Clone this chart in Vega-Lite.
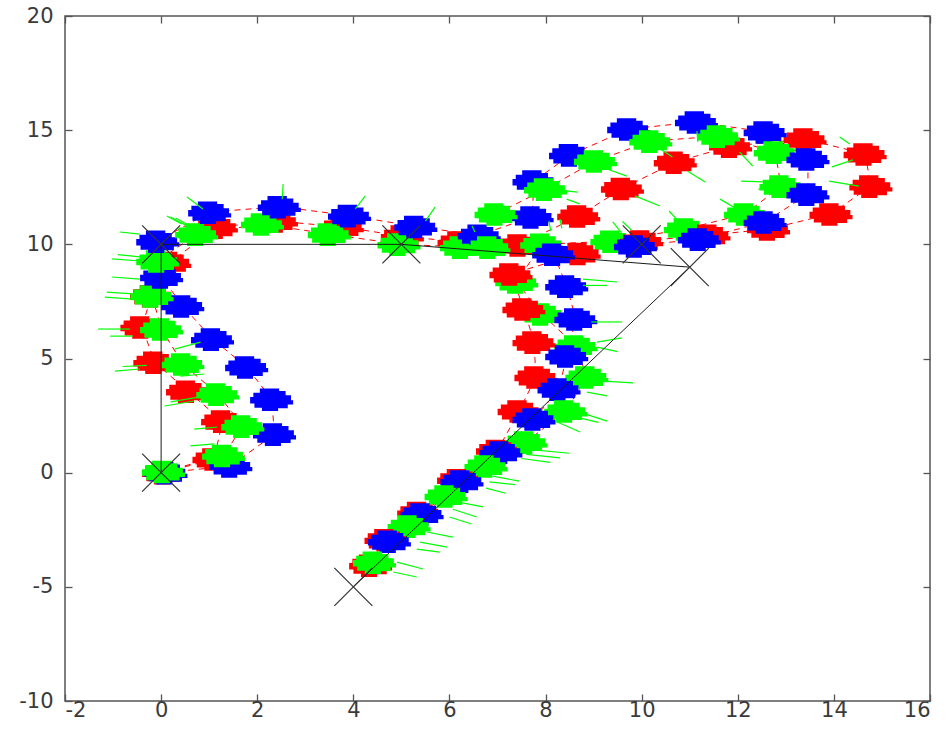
{
  "$schema": "https://vega.github.io/schema/vega-lite/v6.json",
  "width": 865,
  "height": 685,
  "autosize": {"type": "none"},
  "padding": {"left": 65, "top": 16, "right": 20, "bottom": 43},
  "background": "white",
  "config": {
    "view": {"stroke": "#555555", "strokeWidth": 1.5},
    "axis": {"grid": false, "domain": false, "title": null, "labelFont": "DejaVu Sans", "labelFontSize": 21, "labelColor": "#3a3a3a", "tickColor": "#555555", "tickWidth": 1.3, "tickSize": -7}
  },
  "datasets": {
    "robots": [
      {"robot":"r","step":1,"x":0.05,"y":0.0},{"robot":"b","step":1,"x":0.1,"y":0.0},{"robot":"g","step":1,"x":0.05,"y":0.05},
      {"robot":"r","step":2,"x":1.1,"y":0.6},{"robot":"b","step":2,"x":1.45,"y":0.3},{"robot":"g","step":2,"x":1.3,"y":0.75},
      {"robot":"r","step":3,"x":1.28,"y":2.26},{"robot":"b","step":3,"x":2.36,"y":1.69},{"robot":"g","step":3,"x":1.7,"y":2.04},
      {"robot":"r","step":4,"x":0.55,"y":3.57},{"robot":"b","step":4,"x":2.3,"y":3.22},{"robot":"g","step":4,"x":1.18,"y":3.44},
      {"robot":"r","step":5,"x":-0.13,"y":4.84},{"robot":"b","step":5,"x":1.78,"y":4.63},{"robot":"g","step":5,"x":0.45,"y":4.76},
      {"robot":"r","step":6,"x":-0.4,"y":6.38},{"robot":"b","step":6,"x":1.07,"y":5.85},{"robot":"g","step":6,"x":0.01,"y":6.29},
      {"robot":"r","step":7,"x":-0.2,"y":7.75},{"robot":"b","step":7,"x":0.45,"y":7.3},{"robot":"g","step":7,"x":-0.19,"y":7.74},
      {"robot":"r","step":8,"x":0.18,"y":9.2},{"robot":"b","step":8,"x":0.01,"y":8.57},{"robot":"g","step":8,"x":-0.07,"y":9.27},
      {"robot":"r","step":9,"x":1.15,"y":10.75},{"robot":"b","step":9,"x":-0.07,"y":10.14},{"robot":"g","step":9,"x":0.74,"y":10.45},
      {"robot":"r","step":10,"x":2.4,"y":11.02},{"robot":"b","step":10,"x":1.01,"y":11.41},{"robot":"g","step":10,"x":2.11,"y":10.89},
      {"robot":"r","step":11,"x":3.77,"y":10.76},{"robot":"b","step":11,"x":2.46,"y":11.65},{"robot":"g","step":11,"x":3.5,"y":10.45},
      {"robot":"r","step":12,"x":5.02,"y":10.36},{"robot":"b","step":12,"x":3.92,"y":11.26},{"robot":"g","step":12,"x":4.95,"y":10.01},
      {"robot":"r","step":13,"x":6.2,"y":10.1},{"robot":"b","step":13,"x":5.3,"y":10.78},{"robot":"g","step":13,"x":6.25,"y":9.88},
      {"robot":"r","step":14,"x":7.45,"y":9.97},{"robot":"b","step":14,"x":6.62,"y":10.4},{"robot":"g","step":14,"x":6.82,"y":9.88},
      {"robot":"r","step":15,"x":8.69,"y":11.24},{"robot":"b","step":15,"x":7.72,"y":11.2},{"robot":"g","step":15,"x":6.97,"y":11.33},
      {"robot":"r","step":16,"x":9.6,"y":12.45},{"robot":"b","step":16,"x":7.76,"y":12.77},{"robot":"g","step":16,"x":8.0,"y":12.42},
      {"robot":"r","step":17,"x":10.7,"y":13.6},{"robot":"b","step":17,"x":8.52,"y":13.92},{"robot":"g","step":17,"x":9.04,"y":13.65},
      {"robot":"r","step":18,"x":11.85,"y":14.3},{"robot":"b","step":18,"x":9.73,"y":15.05},{"robot":"g","step":18,"x":10.19,"y":14.52},
      {"robot":"r","step":19,"x":13.4,"y":14.61},{"robot":"b","step":19,"x":11.14,"y":15.36},{"robot":"g","step":19,"x":11.6,"y":14.74},
      {"robot":"r","step":20,"x":14.65,"y":13.96},{"robot":"b","step":20,"x":12.57,"y":14.92},{"robot":"g","step":20,"x":12.78,"y":14.04},
      {"robot":"r","step":21,"x":14.77,"y":12.55},{"robot":"b","step":21,"x":13.46,"y":13.74},{"robot":"g","step":21,"x":12.9,"y":12.55},
      {"robot":"r","step":22,"x":13.94,"y":11.33},{"robot":"b","step":22,"x":13.46,"y":12.2},{"robot":"g","step":22,"x":12.16,"y":11.33},
      {"robot":"r","step":23,"x":12.64,"y":10.67},{"robot":"b","step":23,"x":12.57,"y":10.98},{"robot":"g","step":23,"x":10.91,"y":10.67},
      {"robot":"r","step":24,"x":11.4,"y":10.4},{"robot":"b","step":24,"x":11.2,"y":10.23},{"robot":"g","step":24,"x":9.38,"y":10.14},
      {"robot":"r","step":25,"x":10.0,"y":10.15},{"robot":"b","step":25,"x":9.87,"y":9.93},{"robot":"g","step":25,"x":7.92,"y":10.0},
      {"robot":"r","step":26,"x":8.7,"y":9.6},{"robot":"b","step":26,"x":8.17,"y":9.57},{"robot":"g","step":26,"x":7.4,"y":8.35},
      {"robot":"r","step":27,"x":7.28,"y":8.7},{"robot":"b","step":27,"x":8.44,"y":8.17},{"robot":"g","step":27,"x":7.92,"y":6.95},
      {"robot":"r","step":28,"x":7.55,"y":7.17},{"robot":"b","step":28,"x":8.63,"y":6.73},{"robot":"g","step":28,"x":8.63,"y":5.55},
      {"robot":"r","step":29,"x":7.76,"y":5.72},{"robot":"b","step":29,"x":8.44,"y":5.11},{"robot":"g","step":29,"x":8.86,"y":4.19},
      {"robot":"r","step":30,"x":7.8,"y":4.19},{"robot":"b","step":30,"x":8.28,"y":3.66},{"robot":"g","step":30,"x":8.42,"y":2.7},
      {"robot":"r","step":31,"x":7.45,"y":2.7},{"robot":"b","step":31,"x":7.76,"y":2.35},{"robot":"g","step":31,"x":7.59,"y":1.34},
      {"robot":"r","step":32,"x":7.0,"y":0.97},{"robot":"b","step":32,"x":7.07,"y":0.9},{"robot":"g","step":32,"x":6.76,"y":0.29},
      {"robot":"r","step":33,"x":6.19,"y":-0.31},{"robot":"b","step":33,"x":6.26,"y":-0.37},{"robot":"g","step":33,"x":5.93,"y":-1.02},
      {"robot":"r","step":34,"x":5.36,"y":-1.75},{"robot":"b","step":34,"x":5.43,"y":-1.81},{"robot":"g","step":34,"x":5.16,"y":-2.34},
      {"robot":"r","step":35,"x":4.68,"y":-2.94},{"robot":"b","step":35,"x":4.75,"y":-3.0},{"robot":"r","step":36,"x":4.36,"y":-4.05},{"robot":"g","step":35,"x":4.44,"y":-3.92}
    ],
    "rays": [
      {"x":-0.44,"y":10.45,"x2":-0.86,"y2":10.54},{"x":-0.44,"y":9.27,"x2":-1.02,"y2":9.36},{"x":-0.44,"y":9.45,"x2":-0.9,"y2":9.55},
      {"x":-0.44,"y":8.48,"x2":-1.02,"y2":8.57},{"x":-0.5,"y":7.82,"x2":-1.13,"y2":7.91},{"x":-0.59,"y":7.6,"x2":-1.17,"y2":7.69},
      {"x":-0.65,"y":6.29,"x2":-1.31,"y2":6.29},{"x":-0.59,"y":5.98,"x2":-1.06,"y2":5.98},{"x":-0.44,"y":4.54,"x2":-0.96,"y2":4.45},
      {"x":-0.3,"y":4.7,"x2":-0.8,"y2":4.65},{"x":0.69,"y":3.14,"x2":0.07,"y2":2.92},{"x":0.75,"y":3.3,"x2":0.2,"y2":3.1},
      {"x":1.17,"y":2.0,"x2":0.69,"y2":1.91},{"x":1.11,"y":1.26,"x2":0.61,"y2":1.17},{"x":0.82,"y":5.72,"x2":0.28,"y2":5.41},
      {"x":0.9,"y":4.32,"x2":0.4,"y2":4.23},{"x":0.43,"y":10.89,"x2":0.12,"y2":11.24},{"x":0.5,"y":10.85,"x2":0.2,"y2":11.2},
      {"x":0.6,"y":10.8,"x2":0.3,"y2":11.15},
      {"x":0.87,"y":11.55,"x2":0.54,"y2":12.07},{"x":2.52,"y":11.98,"x2":2.54,"y2":12.64},{"x":4.04,"y":11.55,"x2":4.25,"y2":12.12},
      {"x":5.5,"y":11.02,"x2":5.7,"y2":11.63},{"x":6.53,"y":10.54,"x2":6.47,"y2":10.8},
      {"x":8.09,"y":12.42,"x2":8.67,"y2":12.29},{"x":8.44,"y":11.98,"x2":8.71,"y2":11.77},{"x":9.28,"y":13.3,"x2":9.69,"y2":12.99},
      {"x":8.07,"y":11.02,"x2":8.11,"y2":10.58},{"x":8.3,"y":11.1,"x2":8.34,"y2":10.7},{"x":9.6,"y":11.0,"x2":9.8,"y2":10.6},
      {"x":10.57,"y":11.46,"x2":10.78,"y2":10.98},
      {"x":10.39,"y":14.17,"x2":10.64,"y2":13.82},{"x":10.95,"y":13.21,"x2":11.32,"y2":12.73},{"x":9.86,"y":12.12,"x2":10.38,"y2":11.68},
      {"x":12.57,"y":12.73,"x2":12.07,"y2":12.77},{"x":12.85,"y":12.33,"x2":12.43,"y2":12.42},{"x":14.52,"y":12.55,"x2":13.9,"y2":12.77},
      {"x":14.4,"y":13.7,"x2":13.96,"y2":13.39},{"x":11.63,"y":11.98,"x2":11.98,"y2":11.55},{"x":9.58,"y":10.5,"x2":9.4,"y2":10.98},
      {"x":12.04,"y":14.04,"x2":12.31,"y2":13.43},{"x":11.15,"y":14.96,"x2":11.17,"y2":14.48},{"x":14.12,"y":14.7,"x2":14.33,"y2":14.39},
      {"x":9.1,"y":13.8,"x2":9.45,"y2":13.55},
      {"x":8.78,"y":8.48,"x2":9.49,"y2":8.35},{"x":8.78,"y":8.2,"x2":9.28,"y2":8.2},{"x":8.95,"y":6.6,"x2":9.59,"y2":6.6},
      {"x":9.07,"y":5.72,"x2":9.59,"y2":5.9},{"x":9.07,"y":5.5,"x2":9.5,"y2":5.3},{"x":9.2,"y":4.01,"x2":9.82,"y2":3.93},
      {"x":8.86,"y":3.53,"x2":9.28,"y2":3.36},{"x":8.71,"y":2.65,"x2":9.28,"y2":2.26},{"x":8.7,"y":2.4,"x2":9.1,"y2":2.2},
      {"x":8.24,"y":2.22,"x2":8.72,"y2":1.78},
      {"x":7.75,"y":1.0,"x2":8.5,"y2":0.85},{"x":7.6,"y":0.8,"x2":8.3,"y2":0.65},{"x":7.5,"y":0.62,"x2":8.1,"y2":0.45},
      {"x":6.9,"y":-0.15,"x2":7.45,"y2":-0.37},{"x":6.83,"y":-0.4,"x2":7.38,"y2":-0.53},{"x":6.76,"y":-0.68,"x2":7.17,"y2":-0.9},
      {"x":6.16,"y":-1.28,"x2":6.7,"y2":-1.5},{"x":6.07,"y":-1.6,"x2":6.57,"y2":-1.94},{"x":6.0,"y":-1.94,"x2":6.46,"y2":-2.25},
      {"x":5.53,"y":-2.6,"x2":6.07,"y2":-2.82},{"x":5.39,"y":-3.04,"x2":5.95,"y2":-3.26},{"x":5.32,"y":-3.35,"x2":5.8,"y2":-3.48},
      {"x":4.91,"y":-3.92,"x2":5.45,"y2":-4.22},{"x":4.83,"y":-4.35,"x2":5.32,"y2":-4.57}
    ],
    "waypath": [
      {"i":1,"x":0,"y":0},{"i":2,"x":0,"y":10},{"i":3,"x":5,"y":10},{"i":4,"x":11,"y":9},{"i":5,"x":4,"y":-5}
    ],
    "waypoints": [
      {"x":0,"y":0},{"x":0,"y":10},{"x":5,"y":10},{"x":10,"y":10},{"x":11,"y":9},{"x":4,"y":-5}
    ]
  },
  "resolve": {"axis": {"x": "independent", "y": "independent"}},
  "layer": [
    {
      "data": {"name": "robots"},
      "mark": {"type": "line", "color": "#ff0000", "strokeWidth": 1, "strokeDash": [6, 5]},
      "encoding": {
        "x": {"field": "x", "type": "quantitative", "scale": {"domain": [-2, 16], "nice": false, "zero": false},
              "axis": {"orient": "bottom", "values": [-2, 0, 2, 4, 6, 8, 10, 12, 14, 16], "labelPadding": 5, "labelExpr": "'' + datum.value"}},
        "y": {"field": "y", "type": "quantitative", "scale": {"domain": [-10, 20], "nice": false, "zero": false},
              "axis": {"orient": "left", "values": [-10, -5, 0, 5, 10, 15, 20], "labelPadding": 19, "labelExpr": "'' + datum.value"}},
        "detail": {"field": "robot"},
        "order": {"field": "step", "type": "quantitative"}
      }
    },
    {
      "data": {"name": "robots"},
      "mark": {"type": "point", "shape": "M-1,-0.1L-0.85,-0.1L-0.85,-0.3L-0.55,-0.3L-0.55,-0.5L0.35,-0.5L0.35,-0.38L0.65,-0.38L0.65,-0.18L0.9,-0.18L0.9,0.05L1,0.05L1,0.25L0.75,0.25L0.75,0.42L0.3,0.42L0.3,0.55L-0.45,0.55L-0.45,0.4L-0.8,0.4L-0.8,0.2L-1,0.2Z", "filled": true, "size": 1850, "opacity": 1, "strokeWidth": 0},
      "encoding": {
        "x": {"field": "x", "type": "quantitative", "axis": null},
        "y": {"field": "y", "type": "quantitative", "axis": null},
        "color": {"field": "robot", "type": "nominal", "scale": {"domain": ["b", "r", "g"], "range": ["#0000ff", "#ff0000", "#00ff00"]}, "legend": null}
      }
    },
    {
      "data": {"name": "rays"},
      "mark": {"type": "rule", "color": "#00ff00", "strokeWidth": 1.2},
      "encoding": {
        "x": {"field": "x", "type": "quantitative", "axis": {"orient": "top", "labels": false, "values": [-2, 0, 2, 4, 6, 8, 10, 12, 14, 16]}},
        "y": {"field": "y", "type": "quantitative", "axis": {"orient": "right", "labels": false, "values": [-10, -5, 0, 5, 10, 15, 20]}},
        "x2": {"field": "x2"},
        "y2": {"field": "y2"}
      }
    },
    {
      "data": {"name": "waypath"},
      "mark": {"type": "line", "color": "#1a1a1a", "strokeWidth": 1},
      "encoding": {
        "x": {"field": "x", "type": "quantitative", "axis": null},
        "y": {"field": "y", "type": "quantitative", "axis": null},
        "order": {"field": "i", "type": "quantitative"}
      }
    },
    {
      "data": {"name": "waypoints"},
      "mark": {"type": "point", "shape": "M-1,-1L1,1M-1,1L1,-1", "filled": false, "size": 1444, "color": "#333333", "strokeWidth": 1.2, "opacity": 1},
      "encoding": {
        "x": {"field": "x", "type": "quantitative", "axis": null},
        "y": {"field": "y", "type": "quantitative", "axis": null}
      }
    }
  ]
}
